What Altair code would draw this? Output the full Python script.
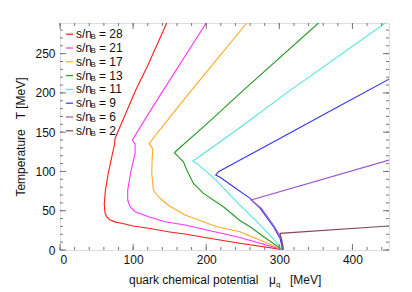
import altair as alt
import pandas as pd

# ---- data ----
labels = ["28", "21", "17", "13", "11", "9", "6", "2"]
colors = ["#ff1a1a", "#ff33ff", "#ffaa22", "#229922", "#55e3da", "#3535ee", "#9955cc", "#884466"]

mu_28 = [146, 120, 103.6, 90, 75.3, 74.5, 70, 66, 62, 60.5, 61.6, 64, 68, 76, 84.4, 100, 121, 150, 171, 200, 246, 304]
T_28 = [289, 235, 203.6, 174, 142, 134, 115, 97.6, 75, 58, 47, 42, 38.5, 35.5, 34, 30.5, 27.6, 23, 20.3, 15.7, 8.5, 0.5]

mu_21 = [200, 141.4, 120, 99, 102.7, 102.7, 97, 92.6, 92.6, 95.8, 102.7, 121, 143.7, 171, 246, 304]
T_21 = [289, 203.6, 172, 140, 134.8, 123, 100, 76.3, 63.6, 55, 48.7, 42.4, 36, 31.8, 16, 0.5]

mu_17 = [255.6, 180, 140, 122, 126.9, 126, 125.5, 127.7, 134.6, 148, 171, 214.5, 246, 275, 304]
T_17 = [289, 203.6, 157, 135.7, 129, 115, 97.6, 76.3, 67.8, 57, 44.5, 29.7, 23.3, 12, 0.5]

mu_13 = [353.6, 251, 200, 160, 156.5, 162, 168.8, 173.4, 182.5, 196.2, 223.5, 246, 260, 280, 304]
T_13 = [289, 203.6, 160, 127, 123.8, 118.7, 112.3, 101.8, 84.8, 72, 55, 37.5, 29.6, 16, 0.5]

mu_11 = [445, 310, 250, 187, 181.6, 187, 200, 214.5, 241.9, 269.3, 290, 304]
T_11 = [289, 200, 158.5, 116.5, 113.2, 110.2, 100, 88, 61, 36, 16, 0.5]

mu_9 = [450, 369.6, 300, 240, 216.7, 213, 219, 237.3, 260, 273.8, 292, 301, 304.5]
T_9 = [217.5, 177, 141.6, 111.4, 99.6, 95.4, 92.5, 80.5, 65.7, 53, 29.6, 14.9, 0.5]

mu_6 = [450, 261.5, 275.5, 293.5, 302.5, 305.5]
T_6 = [114.5, 63.6, 53, 29.6, 14.9, 0.5]

mu_2 = [450, 301, 304, 305.5]
T_2 = [30.5, 21.2, 10, 0.5]

x_major = [0, 100, 200, 300, 400]
x_minor = list(range(0, 451, 20))
y_major = [0, 50, 100, 150, 200, 250]
y_minor = list(range(0, 290, 10))

series = [(mu_28, T_28), (mu_21, T_21), (mu_17, T_17), (mu_13, T_13),
          (mu_11, T_11), (mu_9, T_9), (mu_6, T_6), (mu_2, T_2)]

rows = []
for k, (lab, (ms, ts)) in enumerate(zip(labels, series)):
    for i, (m, t) in enumerate(zip(ms, ts)):
        rows.append({"s": lab, "k": k, "i": i, "mu": m, "T": t})
df = pd.DataFrame(rows)

W, H = 329, 227
FONT = "Liberation Sans"
NB = "\u00a0"
xs = alt.Scale(domain=[0, 450], nice=False, zero=False)
ys = alt.Scale(domain=[0, 289], nice=False, zero=False)

lines = alt.Chart(df).mark_line(strokeWidth=1.1, clip=True).encode(
    x=alt.X("mu:Q", scale=xs, axis=alt.Axis(values=x_major, ticks=False, domain=False, grid=False,
                                            labelFont=FONT, labelFontSize=12, labelColor="#111",
                                            labelPadding=4, title=None)),
    y=alt.Y("T:Q", scale=ys, axis=alt.Axis(values=y_major, ticks=False, domain=False, grid=False,
                                           labelFont=FONT, labelFontSize=12, labelColor="#111",
                                           labelPadding=5, title="Temperature" + NB * 3 + "T [MeV]",
                                           titleFont=FONT, titleFontSize=12, titleFontWeight="normal",
                                           titleColor="#111", titlePadding=7)),
    color=alt.Color("s:N", scale=alt.Scale(domain=labels, range=colors), legend=None),
    detail="s:N",
    order="i:Q",
)

def xticks(vals, length, top):
    d = pd.DataFrame({"v": vals})
    if top:
        return alt.Chart(d).mark_rule(color="#777", strokeWidth=1).encode(
            x=alt.X("v:Q", scale=xs), y=alt.value(0), y2=alt.value(length))
    return alt.Chart(d).mark_rule(color="#777", strokeWidth=1).encode(
        x=alt.X("v:Q", scale=xs), y=alt.value(H), y2=alt.value(H - length))

def yticks(vals, length, right):
    d = pd.DataFrame({"v": vals})
    if right:
        return alt.Chart(d).mark_rule(color="#777", strokeWidth=1).encode(
            y=alt.Y("v:Q", scale=ys), x=alt.value(W), x2=alt.value(W - length))
    return alt.Chart(d).mark_rule(color="#777", strokeWidth=1).encode(
        y=alt.Y("v:Q", scale=ys), x=alt.value(0), x2=alt.value(length))

ticks = [xticks(x_minor, 3, False), xticks(x_major, 6, False),
         xticks(x_minor, 3, True), xticks(x_major, 6, True),
         yticks(y_minor, 3, False), yticks(y_major, 6, False),
         yticks(y_minor, 3, True), yticks(y_major, 6, True)]

# legend (manual, to allow the subscript B)
leg = pd.DataFrame({"s": labels, "row": list(range(len(labels)))})
leg_base = alt.Chart(leg).transform_calculate(py="11.2 + 13.8*datum.row")
leg_sw = leg_base.mark_rule(strokeWidth=1.2).encode(
    x=alt.value(6), x2=alt.value(13), y=alt.Y("py:Q", scale=None),
    color=alt.Color("s:N", scale=alt.Scale(domain=labels, range=colors), legend=None))
leg_t1 = leg_base.mark_text(align="left", baseline="middle", font=FONT, fontSize=12, color="#111").encode(
    x=alt.value(16), y=alt.Y("py:Q", scale=None), text=alt.value("s/n"))
leg_t2 = leg_base.mark_text(align="left", baseline="middle", font=FONT, fontSize=8, color="#111", dy=3).encode(
    x=alt.value(30.5), y=alt.Y("py:Q", scale=None), text=alt.value("B"))
leg_t3 = leg_base.transform_calculate(lab="'= ' + datum.s").mark_text(
    align="left", baseline="middle", font=FONT, fontSize=12, color="#111").encode(
    x=alt.value(39), y=alt.Y("py:Q", scale=None), text="lab:N")

# x-axis title (manual, for the subscript q)
one = pd.DataFrame({"a": [0]})
xt1 = alt.Chart(one).mark_text(align="left", baseline="alphabetic", font=FONT, fontSize=12, color="#111").encode(
    x=alt.value(69), y=alt.value(H + 33.5), text=alt.value("quark chemical potential"))
xt2 = alt.Chart(one).mark_text(align="left", baseline="alphabetic", font=FONT, fontSize=12, color="#111").encode(
    x=alt.value(209), y=alt.value(H + 33.5), text=alt.value("μ"))
xt3 = alt.Chart(one).mark_text(align="left", baseline="alphabetic", font=FONT, fontSize=8, color="#111").encode(
    x=alt.value(216), y=alt.value(H + 36.5), text=alt.value("q"))
xt4 = alt.Chart(one).mark_text(align="left", baseline="alphabetic", font=FONT, fontSize=12, color="#111").encode(
    x=alt.value(230), y=alt.value(H + 33.5), text=alt.value("[MeV]"))

chart = alt.layer(lines, *ticks, leg_sw, leg_t1, leg_t2, leg_t3, xt1, xt2, xt3, xt4).properties(
    width=W, height=H,
    autosize=alt.AutoSizeParams(type="none"),
    padding={"left": 52, "top": 15, "right": 15, "bottom": 38},
).configure_view(stroke="#444", strokeWidth=1).configure(background="white")

chart.save("out.html", embed_options={"renderer": "svg", "actions": False})
